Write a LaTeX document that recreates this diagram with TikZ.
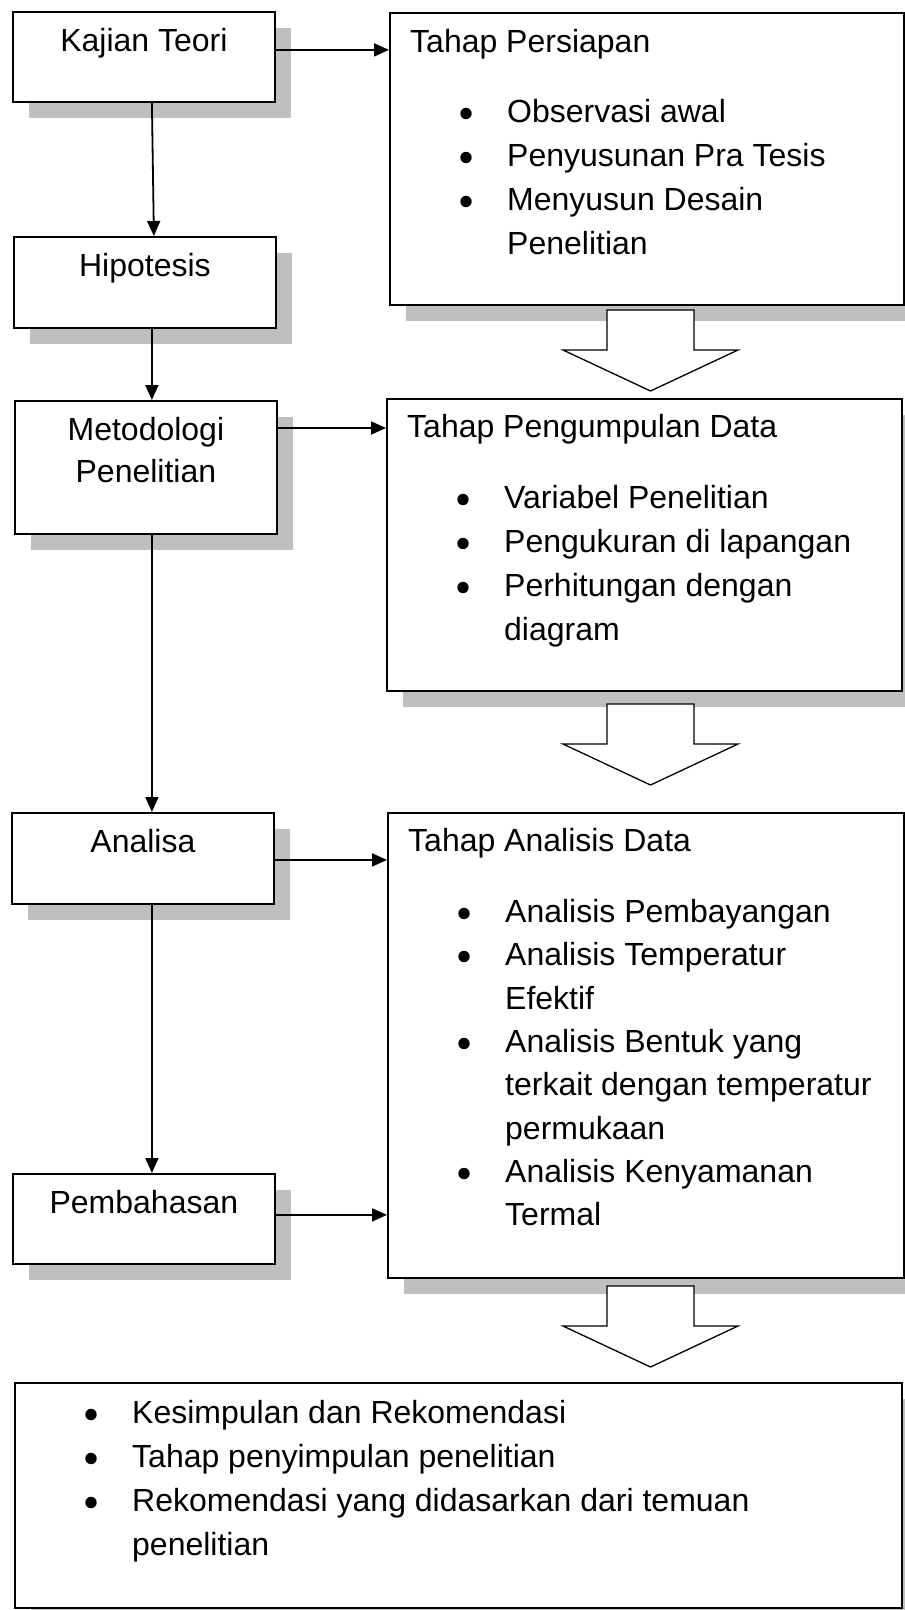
\documentclass[tikz,border=0pt]{standalone}
\usepackage{fontspec}
\setmainfont{Liberation Sans}
\usetikzlibrary{arrows.meta,shadows,calc}
\definecolor{shadowgray}{HTML}{BFBFBF}
\newcommand{\bitem}[4]{%
  \fill ([shift={(77pt,-#3pt+8.5pt)}]#2.north west) circle (5.7pt);
  \node[txt, anchor=base west] (#1) at ([shift={(118pt,-#3pt)}]#2.north west) {#4};}
\newcommand{\contline}[4]{%
  \node[txt, anchor=base west] (#1) at ([shift={(118pt,-#3pt)}]#2.north west) {#4};}
\newcommand{\boxtitle}[4]{%
  \node[txt, anchor=base west] (#1) at ([shift={(21pt,-#3pt)}]#2.north west) {#4};}
\begin{document}
\begin{tikzpicture}[x=1pt,y=-1pt,
  txt/.style={font=\fontsize{32}{44}\selectfont, inner sep=0pt},
  box/.style={draw, line width=1.8pt, fill=white, inner sep=0pt, anchor=north west,
    drop shadow={shadow xshift=16pt, shadow yshift=-16pt, fill=shadowgray, opacity=1}},
  arr/.style={line width=1.8pt, -{Triangle[length=15pt,width=13pt]}},
  blockarrow/.pic={\draw[line width=1.3pt, fill=white]
      (-43.5,0) -- (43.5,0) -- (43.5,40) -- (87.5,40) -- (0,81) -- (-87.5,40) -- (-43.5,40) -- cycle;}
]
\useasboundingbox (0,0) rectangle (905,1610);
\clip (0,0) rectangle (905,1610);

% left column
\node[box, minimum width=262pt, minimum height=90pt] (kaj) at (12,11) {};
\node[box, minimum width=262pt, minimum height=91pt] (hip) at (13,236) {};
\node[box, minimum width=262pt, minimum height=133pt] (meto) at (14,400) {};
\node[box, minimum width=262pt, minimum height=91pt] (anal) at (11,812) {};
\node[box, minimum width=262pt, minimum height=90pt] (pemb) at (12,1173) {};

\node[txt, anchor=base] (kajt) at ([yshift=-40pt]kaj.north) {Kajian Teori};
\node[txt, anchor=base] (hipt) at ([yshift=-40pt]hip.north) {Hipotesis};
\node[txt, anchor=base] (metot1) at ([yshift=-40pt]meto.north) {Metodologi};
\node[txt, anchor=base] (metot2) at ([yshift=-82pt]meto.north) {Penelitian};
\node[txt, anchor=base] (analt) at ([yshift=-40pt]anal.north) {Analisa};
\node[txt, anchor=base] (pembt) at ([yshift=-40pt]pemb.north) {Pembahasan};

% right column
\node[box, minimum width=514pt, minimum height=292pt] (pers) at (389,12) {};
\node[box, minimum width=515pt, minimum height=292pt] (peng) at (386,398) {};
\node[box, minimum width=516pt, minimum height=465pt] (ad) at (387,812) {};
\node[box, minimum width=887pt, minimum height=225pt] (fin) at (14,1382) {};

\boxtitle{perst}{pers}{40}{Tahap Persiapan}
\bitem{pers1}{pers}{110}{Observasi awal}
\bitem{pers2}{pers}{154}{Penyusunan Pra Tesis}
\bitem{pers3}{pers}{198}{Menyusun Desain}
\contline{pers4}{pers}{242}{Penelitian}

\boxtitle{pengt}{peng}{39}{Tahap Pengumpulan Data}
\bitem{peng1}{peng}{110}{Variabel Penelitian}
\bitem{peng2}{peng}{154}{Pengukuran di lapangan}
\bitem{peng3}{peng}{198}{Perhitungan dengan}
\contline{peng4}{peng}{242}{diagram}

\boxtitle{adt}{ad}{39}{Tahap Analisis Data}
\bitem{ad1}{ad}{110}{Analisis Pembayangan}
\bitem{ad2}{ad}{153}{Analisis Temperatur}
\contline{ad3}{ad}{197}{Efektif}
\bitem{ad4}{ad}{240}{Analisis Bentuk yang}
\contline{ad5}{ad}{283}{terkait dengan temperatur}
\contline{ad6}{ad}{327}{permukaan}
\bitem{ad7}{ad}{370}{Analisis Kenyamanan}
\contline{ad8}{ad}{413}{Termal}

\bitem{fin1}{fin}{41}{Kesimpulan dan Rekomendasi}
\bitem{fin2}{fin}{85}{Tahap penyimpulan penelitian}
\bitem{fin3}{fin}{129}{Rekomendasi yang didasarkan dari temuan}
\contline{fin4}{fin}{173}{penelitian}

% block arrows
\pic at (650.5,310) {blockarrow};
\pic at (650.5,704) {blockarrow};
\pic at (650.5,1286) {blockarrow};

% connectors
\draw[arr] ([yshift=7pt]kaj.east) -- ([yshift=7pt]kaj.east -| pers.west);
\draw[arr] ([xshift=8pt]kaj.south) -- ([xshift=9pt]hip.north);
\draw[arr] ([xshift=7pt]hip.south) -- ([xshift=6pt]meto.north);
\draw[arr] ([yshift=-28pt]meto.north east) -- ([yshift=-28pt]meto.north east -| peng.west);
\draw[arr] ([xshift=6pt]meto.south) -- ([xshift=9pt]anal.north);
\draw[arr] ([yshift=-1.5pt]anal.east) -- ([yshift=-1.5pt]anal.east -| ad.west);
\draw[arr] ([xshift=9pt]anal.south) -- ([xshift=8pt]pemb.north);
\draw[arr] ([yshift=4pt]pemb.east) -- ([yshift=4pt]pemb.east -| ad.west);
\end{tikzpicture}
\end{document}
